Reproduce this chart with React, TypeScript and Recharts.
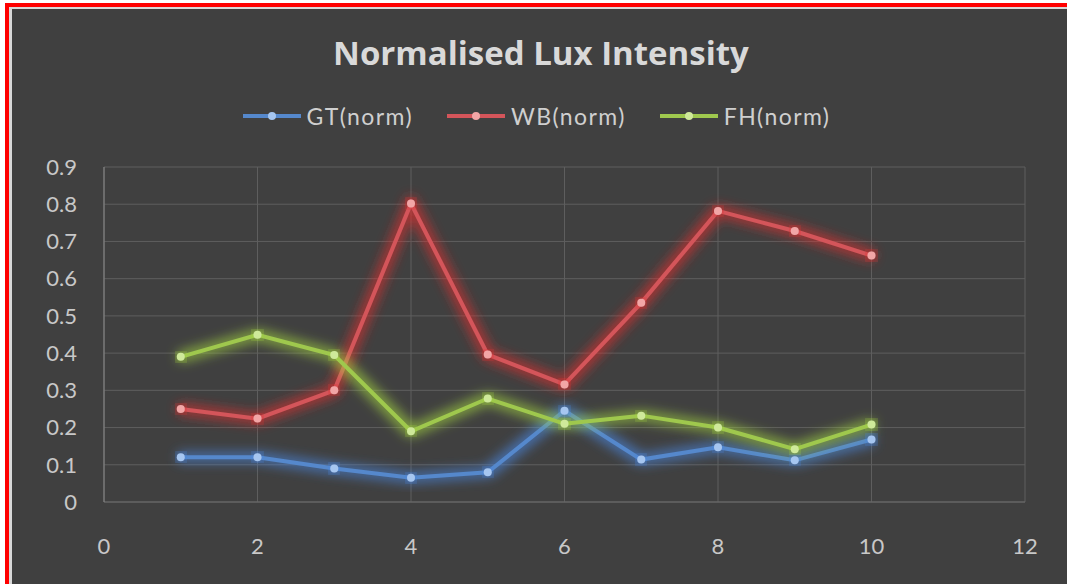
import React from 'react';
import { LineChart, Line, XAxis, YAxis, CartesianGrid, Legend } from 'recharts';

const xValues = [1, 2, 3, 4, 5, 6, 7, 8, 9, 10];
const gtNorm = [0.12, 0.12, 0.09, 0.065, 0.08, 0.245, 0.114, 0.147, 0.112, 0.168];
const wbNorm = [0.25, 0.224, 0.3, 0.802, 0.396, 0.316, 0.535, 0.782, 0.728, 0.662];
const fhNorm = [0.39, 0.449, 0.395, 0.19, 0.278, 0.21, 0.232, 0.2, 0.142, 0.208];
const xTicks = [0, 2, 4, 6, 8, 10, 12];
const yTicks = [0, 0.1, 0.2, 0.3, 0.4, 0.5, 0.6, 0.7, 0.8, 0.9];

const seriesDefs = [
  { key: 'gt', name: 'GT(norm)', color: '#5588cc', dot: '#a6c6f0', glow: 'glowBlue' },
  { key: 'wb', name: 'WB(norm)', color: '#d4555a', dot: '#f2a6a6', glow: 'glowRed' },
  { key: 'fh', name: 'FH(norm)', color: '#9fc84e', dot: '#cfe99a', glow: 'glowGreen' },
];

const data = xValues.map((x, i) => ({ x, gt: gtNorm[i], wb: wbNorm[i], fh: fhNorm[i] }));

const FONT = 'Lato, "Open Sans", sans-serif';

const LegendContent = () => (
  <div style={{ display: 'flex', justifyContent: 'center', alignItems: 'center', fontFamily: FONT, fontSize: 23, letterSpacing: 1.4, color: '#cfcfcf', paddingLeft: 40 }}>
    {seriesDefs.map((s) => (
      <div key={s.key} style={{ display: 'flex', alignItems: 'center', marginRight: 34 }}>
        <svg width={58} height={12} style={{ marginRight: 6 }}>
          <line x1={0} y1={6} x2={58} y2={6} stroke={s.color} strokeWidth={4} />
          <circle cx={29} cy={6} r={4} fill={s.dot} />
        </svg>
        <span>{s.name}</span>
      </div>
    ))}
  </div>
);

function glowFilter(id: string, color: string) {
  return (
    <filter id={id} x="-20%" y="-20%" width="140%" height="140%">
      <feMorphology in="SourceAlpha" operator="dilate" radius="3" result="d" />
      <feFlood floodColor={color} floodOpacity="0.7" result="c" />
      <feComposite in="c" in2="d" operator="in" result="cd" />
      <feGaussianBlur in="cd" stdDeviation="6" result="b" />
      <feMerge>
        <feMergeNode in="b" />
        <feMergeNode in="SourceGraphic" />
      </feMerge>
    </filter>
  );
}

export default function App() {
  return (
    <div style={{ position: 'absolute', left: 0, top: 0, width: 1067, height: 584, background: '#ffffff', overflow: 'hidden' }}>
      <svg width={0} height={0} style={{ position: 'absolute' }}>
        <defs>
          {glowFilter('glowBlue', '#4a86e0')}
          {glowFilter('glowRed', '#e03030')}
          {glowFilter('glowGreen', '#a0d040')}
        </defs>
      </svg>
      <div style={{ position: 'absolute', left: 5, top: 3, width: 1062, height: 581, background: '#ff0000' }} />
      <div style={{ position: 'absolute', left: 9, top: 7, width: 1058, height: 577, background: '#d8d8d8' }} />
      <div style={{ position: 'absolute', left: 12, top: 9, width: 1055, height: 575, background: '#404040' }} />
      <div style={{ position: 'absolute', left: 0, top: 30, width: 1082, textAlign: 'center', fontFamily: '"Open Sans", sans-serif', fontWeight: 700, fontSize: 33, color: '#d9d9d9' }}>
        Normalised Lux Intensity
      </div>
      <div style={{ position: 'absolute', left: 0, top: 0 }}>
        <LineChart width={1067} height={584} data={data} margin={{ top: 167, right: 42, bottom: 0, left: 0 }}>
          <CartesianGrid stroke="#5e5e5e" strokeWidth={1} />
          <XAxis
            dataKey="x"
            type="number"
            domain={[0, 12]}
            ticks={xTicks}
            height={82}
            tickSize={0}
            tickMargin={36}
            axisLine={{ stroke: '#6a6a6a' }}
            tick={{ fill: '#c8c8c8', fontSize: 22, fontFamily: FONT }}
          />
          <YAxis
            type="number"
            domain={[0, 0.9]}
            ticks={yTicks}
            width={104}
            tickSize={0}
            tickMargin={27}
            axisLine={{ stroke: '#8a8a8a' }}
            tick={{ fill: '#c8c8c8', fontSize: 22, fontFamily: FONT }}
          />
          <Legend verticalAlign="middle" layout="horizontal" content={LegendContent} wrapperStyle={{ top: 102, left: 0, width: 1067 }} />
          {seriesDefs.map((s) => (
            <Line
              key={s.key}
              dataKey={s.key}
              name={s.name}
              stroke={s.color}
              strokeWidth={4}
              dot={{ r: 4, fill: s.dot, stroke: 'none' }}
              activeDot={false}
              isAnimationActive={false}
              filter={`url(#${s.glow})`}
            />
          ))}
        </LineChart>
      </div>
    </div>
  );
}
